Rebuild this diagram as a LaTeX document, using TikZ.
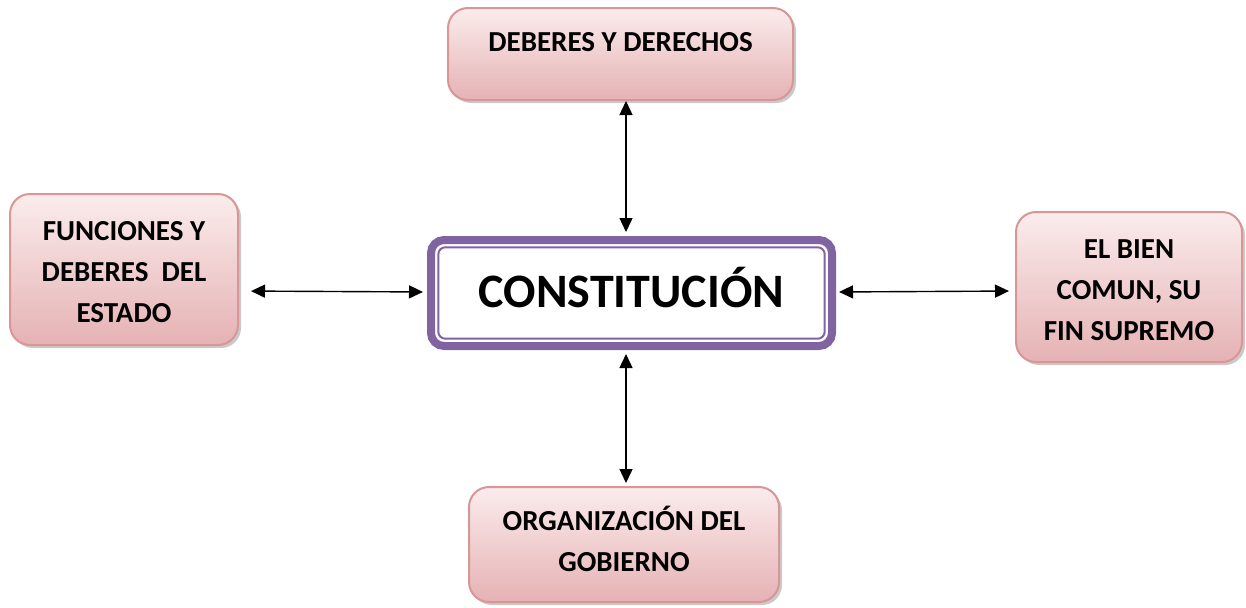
\documentclass[tikz,border=0pt]{standalone}
\usepackage{fontspec}
\setmainfont{Carlito}
\usetikzlibrary{arrows.meta,shadows}

\definecolor{pinkline}{RGB}{217,150,150}
\definecolor{pinktop}{RGB}{251,236,236}
\definecolor{pinkbot}{RGB}{229,178,180}
\definecolor{violeta}{RGB}{128,100,162}

\def\fs{\fontsize{14.5}{20.5}\selectfont\bfseries}

\begin{document}
\begin{tikzpicture}[x=0.5pt, y=-0.5pt,
	tema/.style={rectangle, rounded corners=10pt, draw=pinkline, line width=1pt, top color=pinktop, bottom color=pinkbot, inner sep=0pt, drop shadow={shadow xshift=1.5pt, shadow yshift=-1.5pt, fill=gray!70, opacity=0.6}},
	texto/.style={align=center, font=\fs, inner sep=0pt},
	enlace/.style={line width=0.7pt, {Triangle[length=7pt,width=6.5pt]}-{Triangle[length=7pt,width=6.5pt]}}]

	\useasboundingbox (0,0) rectangle (1246,607);

	% cuadro central
	\node (cons) at (631.5,293) [rectangle, rounded corners=6.5pt, draw=violeta, line width=4pt, outer sep=0pt, fill=white, minimum width=200.5pt, minimum height=53pt, inner sep=0pt] {};
	\draw[violeta, line width=1pt, rounded corners=3.5pt] ([shift={(3.65pt,-3.65pt)}]cons.north west) rectangle ([shift={(-3.65pt,3.65pt)}]cons.south east);
	\node (constxt) at (631.5,287.5) [texto, font=\fontsize{24}{28}\selectfont\bfseries] {CONSTITUCIÓN};

	% temas
	\node (dd) at (620.5,54) [tema, minimum width=172.5pt, minimum height=46pt] {};
	\node (fd) at (124,269.5) [tema, minimum width=114pt, minimum height=75.5pt] {};
	\node (bc) at (1129,287) [tema, minimum width=113pt, minimum height=75pt] {};
	\node (og) at (624,544.5) [tema, minimum width=155pt, minimum height=57.5pt] {};

	\node (ddtxt) at (620.5,42) [texto] {DEBERES Y DERECHOS};
	\node (fdtxt) at (124,272.5) [texto] {FUNCIONES Y\\DEBERES\ \ DEL\\ESTADO};
	\node (bctxt) at (1129,290.5) [texto] {EL BIEN\\COMUN, SU\\FIN SUPREMO};
	\node (ogtxt) at (624,538.5) [texto] {ORGANIZACIÓN DEL\\GOBIERNO};

	\draw[enlace, shorten <=4pt, shorten >=0pt] ([xshift=-2.75pt]cons.north) to ([xshift=2.75pt]dd.south);
	\draw[enlace, shorten <=4pt, shorten >=1.5pt] ([xshift=-2.75pt]cons.south) to ([xshift=1pt]og.north);
	\draw[enlace, shorten <=4pt, shorten >=6pt] ([yshift=0.5pt]cons.west) to ([yshift=-10.75pt]fd.east);
	\draw[enlace, shorten <=3.5pt, shorten >=3pt] ([yshift=0.5pt]cons.east) to ([yshift=-2pt]bc.west);

\end{tikzpicture}
\end{document}
